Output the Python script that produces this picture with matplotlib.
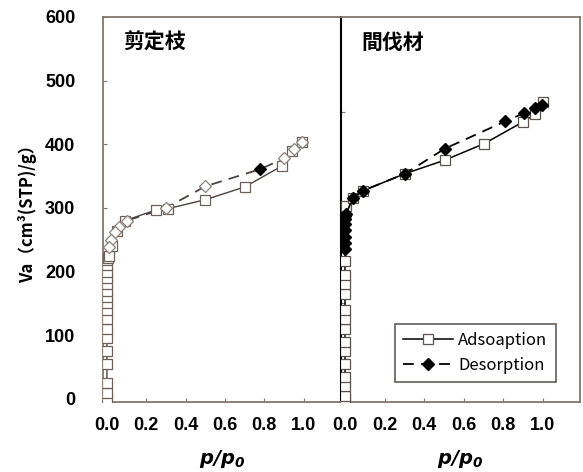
import matplotlib.pyplot as plt
import numpy as np

plt.rcParams['font.family'] = ['Noto Sans CJK JP', 'DejaVu Sans']
plt.rcParams['mathtext.fontset'] = 'dejavusans'

# 剪定枝 (left panel)
ads1_x = [0.0, 0.0, 0.0, 0.0, 0.0, 0.0, 0.0, 0.0, 0.0, 0.0, 0.0, 0.0, 0.0, 0.0, 0.0, 0.0, 0.0,
          0.005, 0.01, 0.024, 0.05, 0.09, 0.25, 0.31, 0.5, 0.7, 0.89, 0.94, 0.99]
ads1_y = [0, 10, 25, 55, 75, 95, 110, 125, 140, 150, 160, 170, 180, 190, 200, 210, 218,
          222, 225, 240, 264, 280, 297, 299, 313, 333, 366, 389, 403]
des1_x = [0.99, 0.95, 0.9, 0.78, 0.5, 0.3, 0.1, 0.06, 0.04, 0.02, 0.01]
des1_y = [403, 392, 378, 361, 334, 300, 280, 270, 262, 250, 238]
des1_filled = [False, False, False, True, False, False, False, False, False, False, False]

# 間伐材 (right panel)
ads2_x = [0.0, 0.0, 0.0, 0.0, 0.0, 0.0, 0.0, 0.0, 0.0, 0.0, 0.0, 0.0, 0.0, 0.0,
          0.005, 0.04, 0.09, 0.305, 0.504, 0.704, 0.9, 0.96, 1.0]
ads2_y = [0, 5, 20, 35, 55, 75, 90, 110, 125, 140, 165, 180, 195, 217,
          303, 316, 327, 354, 375, 401, 435, 447, 466]
des2_x = [0.995, 0.96, 0.907, 0.81, 0.504, 0.305, 0.09, 0.04, 0.005, 0.0, 0.0, 0.0, 0.0, 0.0, 0.0, 0.0]
des2_y = [462, 457, 449, 436, 393, 354, 327, 316, 290, 287, 282, 275, 265, 255, 245, 235]

panel_names = ['剪定枝', '間伐材']
x_ticks = [0.0, 0.2, 0.4, 0.6, 0.8, 1.0]
y_ticks = [0, 100, 200, 300, 400, 500, 600]

frame = '#80766f'
gray = '#4a4340'
tick_font = {'family': 'Liberation Sans', 'weight': 'bold', 'size': 13}

fig = plt.figure(figsize=(5.83, 4.72), dpi=100)
ax1 = fig.add_axes([0.1767, 0.148, 0.4083, 0.816])
ax2 = fig.add_axes([0.585, 0.148, 0.4100, 0.816])

# left panel
ax1.plot(ads1_x, ads1_y, '-', color=gray, lw=1.0, marker='s', ms=7,
         mfc='white', mec='#6a615c', mew=0.9, zorder=3)
ax1.plot(des1_x, des1_y, '--', color=gray, lw=1.3, dashes=(6, 4), zorder=2)
for x, y, f in zip(des1_x, des1_y, des1_filled):
    ax1.plot(x, y, 'D', ms=6, mfc='black' if f else 'white',
             mec='black' if f else '#8a817c', mew=0.9, zorder=4)

# right panel
ax2.plot(ads2_x, ads2_y, '-', color='black', lw=1.1, marker='s', ms=7,
         mfc='white', mec='#5a524e', mew=0.9, zorder=3, label='Adsoaption')
ax2.plot(des2_x, des2_y, '--', color='black', lw=1.3, dashes=(6, 4), marker='D', ms=6,
         mfc='black', mec='black', zorder=4, label='Desorption')

for ax, name in zip([ax1, ax2], panel_names):
    ax.set_xlim(-0.02, 1.19)
    ax.set_ylim(-5, 600)
    ax.set_xticks(x_ticks)
    ax.set_xticklabels(['%.1f' % t for t in x_ticks], fontdict=tick_font)
    ax.tick_params(direction='in', length=3, color=frame, width=0.8)
    ax.tick_params(axis='x', pad=11)
    ax.text(0.085, 0.935, name, transform=ax.transAxes, fontsize=15, fontweight='bold',
            va='center', ha='left')
    ax.set_xlabel(r'$\mathbfit{p/p_0}$', fontsize=14, labelpad=10)
    for s in ax.spines.values():
        s.set_color(frame)
        s.set_linewidth(1.3)

ax1.set_yticks(y_ticks)
ax1.set_yticklabels([str(t) for t in y_ticks], fontdict=tick_font)
ax1.tick_params(axis='y', pad=20)
ax1.set_ylabel('Va（cm³(STP)/g）', fontsize=12, fontweight='bold', labelpad=6)
ax1.spines['right'].set_visible(False)

ax2.set_yticks([150, 300, 450])
ax2.set_yticklabels([])
ax2.spines['left'].set_color('black')
ax2.spines['left'].set_linewidth(1.5)

leg = ax2.legend(loc='lower left', bbox_to_anchor=(0.226, 0.052), borderaxespad=0,
                 fontsize=12, frameon=True, fancybox=False, edgecolor='#3a3330',
                 handlelength=3.0, borderpad=0.5, labelspacing=0.45, handletextpad=0.3)
leg.get_frame().set_linewidth(1.2)

fig.savefig('out.png', dpi=100)
